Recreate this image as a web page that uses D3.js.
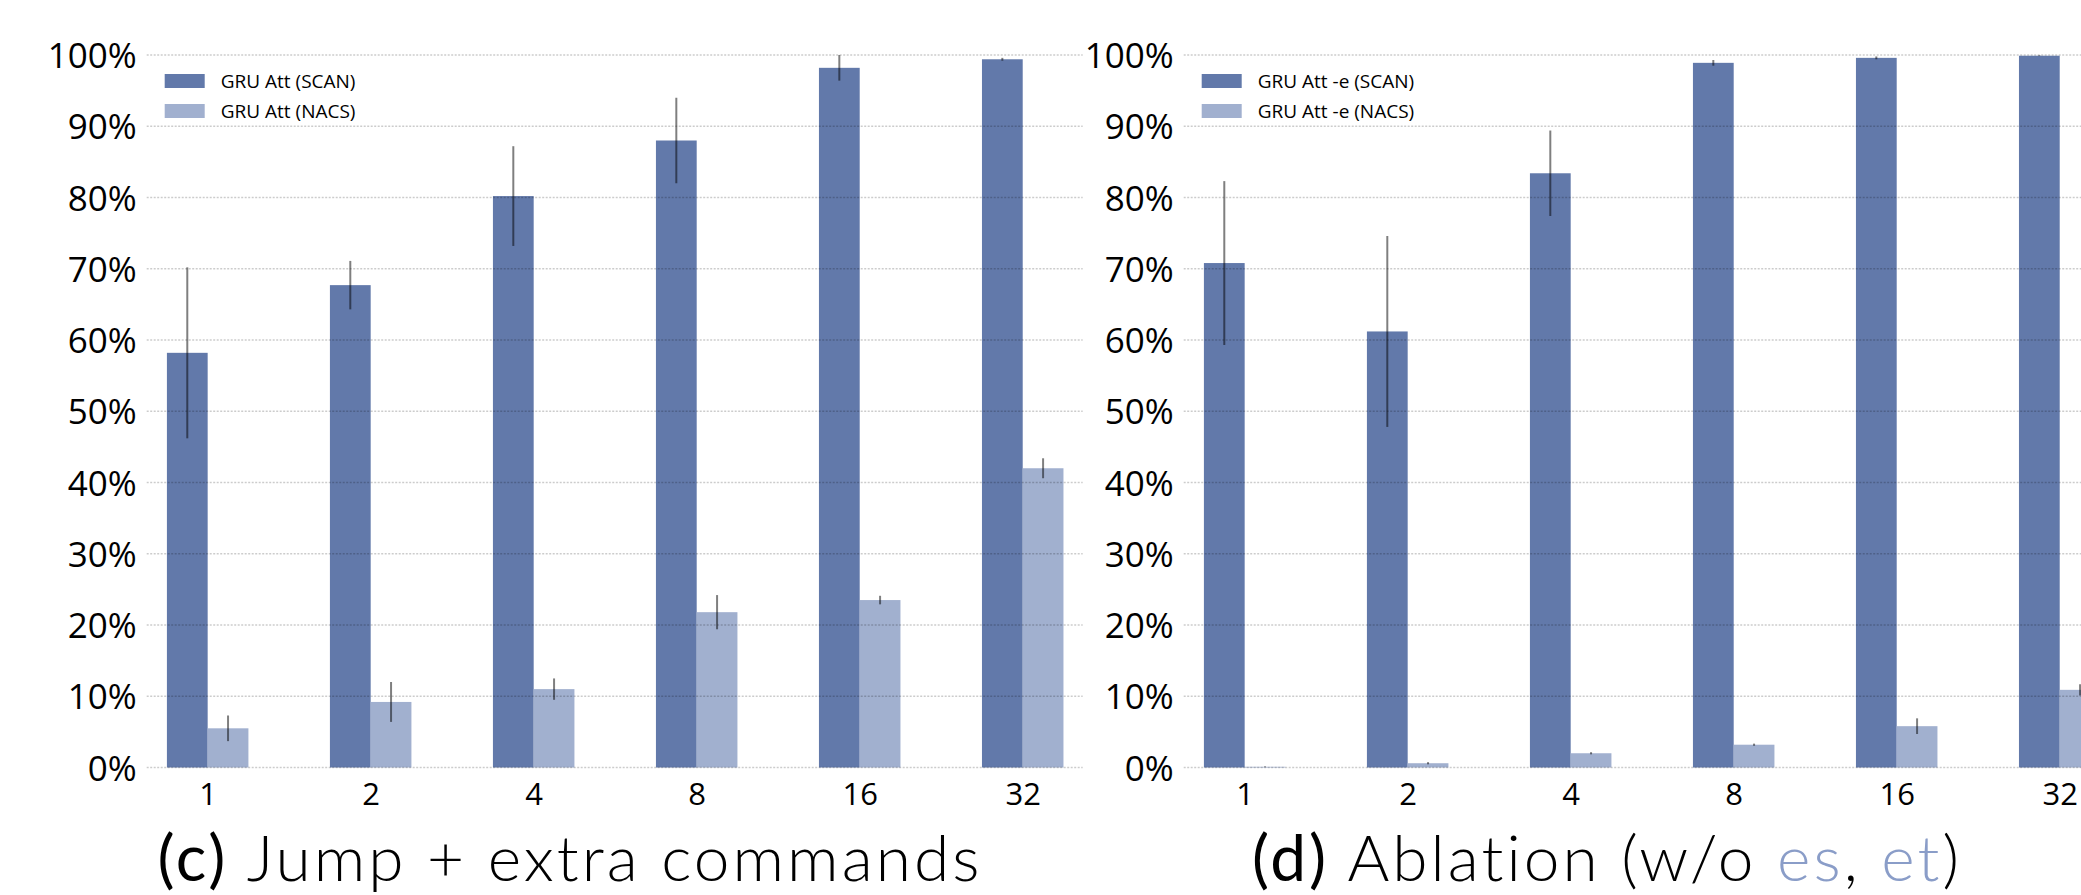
<!DOCTYPE html>
<html>
<head>
<meta charset="utf-8">
<script src="https://cdn.jsdelivr.net/npm/d3@7"></script>
<style>
  body { margin: 0; background: #fff; }
  text { font-family: "Open Sans", "Noto Sans", sans-serif; }
</style>
</head>
<body>
<div id="chart"></div>
<script>
const width = 2081, height = 895;

// data (accuracy in %)
const sizes = ["1", "2", "4", "8", "16", "32"];
const ticksY = [0, 10, 20, 30, 40, 50, 60, 70, 80, 90, 100];

const scanC    = [58.2, 67.7, 80.2, 88.0, 98.2, 99.4];
const scanCErr = [12.0, 3.4, 7.0, 6.0, 1.8, 0.2];
const nacsC    = [5.5, 9.2, 11.0, 21.8, 23.5, 42.0];
const nacsCErr = [1.8, 2.8, 1.5, 2.4, 0.6, 1.4];

const scanD    = [70.8, 61.2, 83.4, 98.9, 99.6, 99.9];
const scanDErr = [11.5, 13.4, 6.0, 0.4, 0.2, 0.05];
const nacsD    = [0.1, 0.6, 2.0, 3.2, 5.8, 10.9];
const nacsDErr = [0.05, 0.15, 0.15, 0.15, 1.1, 0.8];

const colScan = "#6279aa", colNacs = "#a1b0cf", colAccent = "#8a9dc8";

const svg = d3.select("#chart").append("svg")
    .attr("width", width)
    .attr("height", height);

const y = d3.scaleLinear().domain([0, 100]).range([767.5, 55]);
const x = d3.scaleLinear().domain([-0.374, 5.368]).range([0, 936]);
const barW = 0.25;
const titles = [];

function panel(left, scan, scanErr, nacs, nacsErr, labels, title) {
    const g = svg.append("g").attr("transform", `translate(${left},0)`);

    const series = [
        {vals: scan, err: scanErr, color: colScan, off: -barW},
        {vals: nacs, err: nacsErr, color: colNacs, off: 0}
    ];

    series.forEach(s => {
        g.append("g").selectAll("rect")
            .data(s.vals)
            .enter().append("rect")
            .attr("x", (d, i) => x(i + s.off))
            .attr("width", x(barW) - x(0))
            .attr("y", d => y(d))
            .attr("height", d => y(0) - y(d))
            .attr("fill", s.color);
    });

    // grid on top of the bars, like the original
    g.append("g").selectAll("line")
        .data(ticksY)
        .enter().append("line")
        .attr("x1", 0).attr("x2", x.range()[1])
        .attr("y1", d => y(d)).attr("y2", d => y(d))
        .attr("stroke", "#000")
        .attr("stroke-opacity", 0.2)
        .attr("stroke-width", 1.3)
        .attr("stroke-dasharray", "2,1.5");

    series.forEach(s => {
        g.append("g").selectAll("line")
            .data(s.vals)
            .enter().append("line")
            .attr("x1", (d, i) => x(i + s.off + barW / 2))
            .attr("x2", (d, i) => x(i + s.off + barW / 2))
            .attr("y1", (d, i) => y(d - s.err[i]))
            .attr("y2", (d, i) => y(d + s.err[i]))
            .attr("stroke", "#000")
            .attr("stroke-opacity", 0.5)
            .attr("stroke-width", 2);
    });

    const yAxis = g.append("g")
        .call(d3.axisLeft(y).tickValues(ticksY).tickSize(0).tickPadding(10).tickFormat(d => d + "%"));
    yAxis.select(".domain").remove();
    yAxis.selectAll("text")
        .attr("font-family", "'Open Sans', sans-serif")
        .attr("font-size", 35)
        .attr("dy", "0.36em")
        .attr("fill", "#000");

    const xAxis = g.append("g")
        .attr("transform", `translate(0,${y(0)})`)
        .call(d3.axisBottom(x).tickValues(d3.range(sizes.length)).tickSize(0).tickFormat(i => sizes[i]));
    xAxis.select(".domain").remove();
    xAxis.selectAll("text")
        .attr("font-family", "'Open Sans', sans-serif")
        .attr("font-size", 31)
        .attr("y", 805 - y(0))
        .attr("dy", 0)
        .attr("fill", "#000");

    // legend
    const leg = g.append("g").attr("transform", "translate(18,74)");
    [colScan, colNacs].forEach((c, i) => {
        leg.append("rect")
            .attr("x", 0).attr("y", i * 30)
            .attr("width", 40).attr("height", 14)
            .attr("fill", c);
        leg.append("text")
            .attr("x", 56).attr("y", i * 30 + 7)
            .attr("dy", "0.35em")
            .attr("font-size", 19)
            .text(labels[i]);
    });

    const t = g.append("text")
        .attr("x", 570 - 146.7)
        .attr("y", 881)
        .attr("text-anchor", "middle")
        .style("font-family", "Lato, 'Open Sans', sans-serif")
        .attr("font-size", 64)
        .attr("font-weight", 300);
    title.forEach(p => {
        t.append("tspan")
            .attr("font-weight", p.w || 300)
            .attr("fill", p.c || "#000")
            .text(p.t);
    });
    titles.push(t);
}

panel(146.7, scanC, scanCErr, nacsC, nacsCErr,
    ["GRU Att (SCAN)", "GRU Att (NACS)"],
    [{t: "(c)", w: 400}, {t: " Jump + extra commands"}]);

panel(1183.7, scanD, scanDErr, nacsD, nacsDErr,
    ["GRU Att -e (SCAN)", "GRU Att -e (NACS)"],
    [{t: "(d)", w: 400}, {t: " Ablation (w/o "}, {t: "es", c: colAccent}, {t: ", "}, {t: "et", c: colAccent}, {t: ")"}]);

// the figure's title face is wider than Lato: open up the spacing so "(c) ..." spans ~825px
const t0 = titles[0];
const n = t0.text().length;
const ls = Math.max(0, (825 - t0.node().getComputedTextLength()) / n);
titles.forEach(t => t.attr("letter-spacing", ls));
</script>
</body>
</html>
